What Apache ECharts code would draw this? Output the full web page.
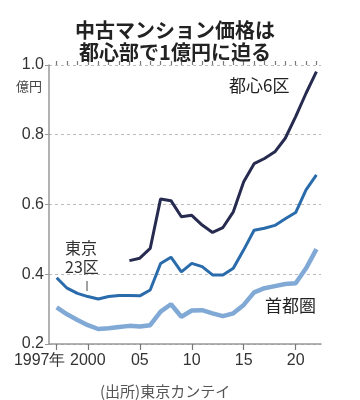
<!DOCTYPE html>
<html><head><meta charset="utf-8">
<script src="https://cdn.jsdelivr.net/npm/echarts@6/dist/echarts.min.js"></script>
<style>html,body{margin:0;padding:0;background:#fff}#c{width:360px;height:400px}</style>
</head><body><div id="c"></div>
<script>
var years = [1997,1998,1999,2000,2001,2002,2003,2004,2005,2006,2007,2008,2009,2010,2011,2012,2013,2014,2015,2016,2017,2018,2019,2020,2021,2022];
var toshin6 = [null,null,null,null,null,null,null,0.439,0.446,0.474,0.616,0.611,0.565,0.569,0.541,0.520,0.534,0.579,0.665,0.717,0.732,0.751,0.790,0.852,0.919,0.981];
var tokyo23 = [0.390,0.360,0.345,0.336,0.329,0.336,0.339,0.339,0.338,0.355,0.431,0.449,0.407,0.431,0.422,0.398,0.398,0.417,0.470,0.526,0.532,0.540,0.559,0.577,0.642,0.685];
var shutoken = [0.305,0.285,0.269,0.254,0.243,0.245,0.249,0.252,0.250,0.254,0.293,0.314,0.278,0.296,0.297,0.288,0.280,0.288,0.312,0.348,0.360,0.366,0.372,0.374,0.417,0.472];
var xLabelYears = [1997,2000,2005,2010,2015,2020];
var xLabelText = {1997:'1997年',2000:'2000',2005:'05',2010:'10',2015:'15',2020:'20'};
var yTicks = [0.2,0.4,0.6,0.8,1.0];

function pairs(arr){ return years.map(function(y,i){ return [y, arr[i]]; }); }

var chart = echarts.init(document.getElementById('c'));
var font = "'Liberation Sans', Arial, sans-serif";
var cjk = "'Noto Sans CJK JP', sans-serif";
chart.setOption({
  animation:false,
  grid:{left:49,right:39,top:65,bottom:56},
  title:{text:'中古マンション価格は\n都心部で1億円に迫る',left:170,textAlign:'center',top:14,
    textStyle:{fontFamily:cjk,fontSize:20,fontWeight:'bold',color:'#222',lineHeight:22}},
  xAxis:[{
    type:'value',min:1996.26,max:2022.44,
    axisLine:{show:true,lineStyle:{color:'#999',width:1.5}},
    axisTick:{show:true,customValues:xLabelYears,length:6,lineStyle:{color:'#777',width:1.2}},
    splitLine:{show:false},
    axisLabel:{customValues:xLabelYears,margin:9,fontFamily:font,fontSize:16,color:'#333',
      formatter:function(v){ return v===1997 ? '{a|1997年}' : xLabelText[v]; },
      rich:{a:{fontFamily:font,fontSize:16,color:'#333',padding:[0,34,0,0]}}}
  },{
    type:'value',min:1996.26,max:2022.44,
    axisLine:{show:false},
    axisTick:{show:true,customValues:years,length:4,lineStyle:{color:'#777',width:1.2}},
    axisLabel:{show:false},splitLine:{show:false}
  }],
  yAxis:{type:'value',min:0.2,max:1.0,interval:0.2,
    axisLine:{show:true,lineStyle:{color:'#999',width:1.5}},
    axisTick:{show:true,length:4,lineStyle:{color:'#999'}},
    axisLabel:{margin:5,fontFamily:font,fontSize:16,color:'#333',formatter:function(v){return v.toFixed(1);}},
    splitLine:{show:true,lineStyle:{color:'#bbb',type:[3,3],width:1}}
  },
  graphic:[
    {type:'text',left:16,top:80,style:{text:'億円',font:'13px '+cjk,fill:'#444'}},
    {type:'text',left:229,top:77,style:{text:'都心6区',font:'17px '+cjk,fill:'#222'}},
    {type:'text',left:65,top:238,style:{text:'東京\n23区',font:'16px '+cjk,fill:'#333',lineHeight:19}},
    {type:'line',shape:{x1:87,y1:281,x2:87,y2:291},style:{stroke:'#444',lineWidth:1}},
    {type:'text',left:265,top:297,style:{text:'首都圏',font:'17px '+cjk,fill:'#222'}},
    {type:'text',left:100,top:384,style:{text:'(出所)東京カンテイ',font:'15px '+cjk,fill:'#555'}}
  ],
  series:[
    {type:'line',data:pairs(shutoken),showSymbol:false,lineStyle:{color:'#80a9d6',width:4.5},z:2},
    {type:'line',data:pairs(tokyo23),showSymbol:false,lineStyle:{color:'#2a6cab',width:3},z:3},
    {type:'line',data:pairs(toshin6),showSymbol:false,connectNulls:false,lineStyle:{color:'#262b4f',width:3},z:4}
  ]
});
</script></body></html>
